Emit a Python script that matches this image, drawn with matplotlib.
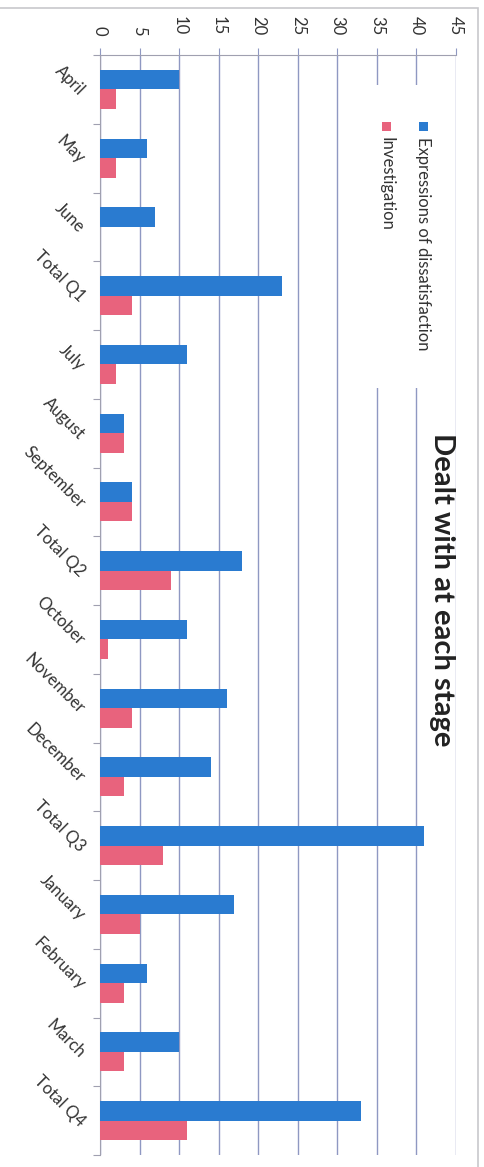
import matplotlib.pyplot as plt
import numpy as np
from matplotlib.patches import Rectangle

categories = ['April', 'May', 'June', 'Total Q1', 'July', 'August', 'September', 'Total Q2',
              'October', 'November', 'December', 'Total Q3', 'January', 'February', 'March', 'Total Q4']
expressions = [10, 6, 7, 23, 11, 3, 4, 18, 11, 16, 14, 41, 17, 6, 10, 33]
investigation = [2, 2, 0, 4, 2, 3, 4, 9, 1, 4, 3, 8, 5, 3, 3, 11]
value_ticks = [0, 5, 10, 15, 20, 25, 30, 35, 40, 45]

blue = '#2a7bd0'
pink = '#e8637d'
grid_col = '#8f98c2'

plt.rcParams['font.family'] = ['Lato', 'DejaVu Sans']

fig = plt.figure(figsize=(4.85, 11.67), dpi=100)
ax = fig.add_axes([100/485, 1 - 1155/1167, 356/485, 1100/1167])

y = np.arange(len(categories))
h = 0.285
ax.barh(y - h/2, expressions, height=h, color=blue, zorder=3)
ax.barh(y + h/2, investigation, height=h, color=pink, zorder=3)

ax.set_xlim(0, 45)
ax.set_ylim(len(categories) - 0.5, -0.5)

# value axis on top, labels turned like the scanned page
ax.xaxis.tick_top()
ax.set_xticks(value_ticks)
ax.set_xticklabels([str(v) for v in value_ticks], rotation=-90, fontsize=12, color='#333333')
ax.tick_params(axis='x', length=5, color=grid_col, pad=9)
ax.grid(axis='x', color=grid_col, lw=1, zorder=0)

# category ticks on the slot boundaries, labels on the centres
ax.set_yticks(np.arange(len(categories) + 1) - 0.5)
ax.set_yticklabels([])
ax.tick_params(axis='y', length=5, color='#a0a0b0')
for i, c in enumerate(categories):
    ax.text(-0.05, i + 0.05, c, transform=ax.get_yaxis_transform(), rotation=-45,
            rotation_mode='anchor', ha='right', va='center', fontsize=12, color='#333333')

for s in ['right', 'bottom']:
    ax.spines[s].set_visible(False)
ax.spines['top'].set_color('#a0a0b0')
ax.spines['left'].set_color('#a0a0b0')

# legend drawn by hand so the text can run down the page
fig.patches.append(Rectangle((370/485, 1 - 388/1167), 70/485, 303/1167, transform=fig.transFigure,
                             facecolor='white', edgecolor='none', zorder=5))
for xc, col, lab in [(423, blue, 'Expressions of dissatisfaction'), (387, pink, 'Investigation')]:
    fig.patches.append(Rectangle(((xc - 4.5)/485, 1 - 131/1167), 9/485, 9/1167,
                                 transform=fig.transFigure, facecolor=col, edgecolor='none', zorder=6))
    fig.text(xc/485, 1 - 137/1167, lab, rotation=-90, ha='center', va='top',
             fontsize=12, color='#333333', zorder=7)

fig.text(442/485, 1 - 590/1167, 'Dealt with at each stage', rotation=-90, ha='center', va='center',
         fontsize=21, fontweight='bold', color='#222222')

# outer chart border
fig.patches.append(Rectangle((-0.01, -0.01), 478/485 + 0.01, 1 - 8/1167 + 0.01, transform=fig.transFigure,
                             facecolor='none', edgecolor='#c8c8cc', lw=1.2))

fig.savefig('out.png', dpi=100)
